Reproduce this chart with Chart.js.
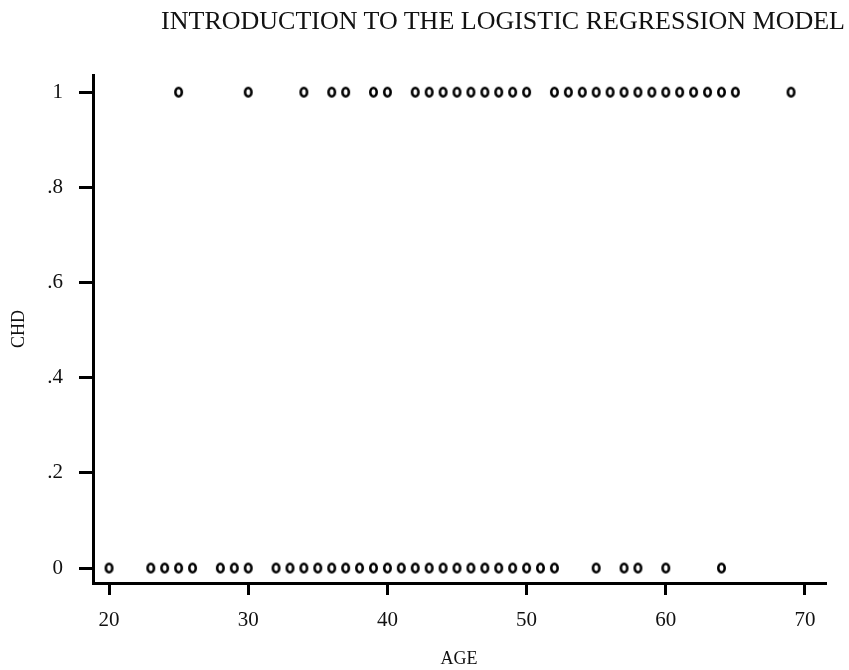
<!DOCTYPE html>
<html>
<head>
<meta charset="utf-8">
<script src="https://cdn.jsdelivr.net/npm/chart.js@4/dist/chart.umd.min.js"></script>
<style>
  html, body { margin: 0; padding: 0; background: #fff; }
  #wrap { position: relative; width: 849px; height: 670px; }
  #heading {
    position: absolute; top: 8px; right: 4px;
    font-family: "Liberation Serif", "Times New Roman", serif;
    font-size: 26px; line-height: 26px; color: #111; white-space: nowrap;
  }
  canvas { display: block; }
</style>
</head>
<body>
<div id="wrap">
  <div id="heading">INTRODUCTION TO THE LOGISTIC REGRESSION MODEL</div>
  <canvas id="chd" width="849" height="670"></canvas>
</div>
<script>
// ages of subjects with and without coronary heart disease
const ageWithChd = [25, 30, 34, 36, 37, 39, 40, 42, 43, 44, 45, 46, 47, 48, 49, 50,
  52, 53, 54, 55, 56, 57, 58, 59, 60, 61, 62, 63, 64, 65, 69];
const ageNoChd = [20, 23, 24, 25, 26, 28, 29, 30, 32, 33, 34, 35, 36, 37, 38, 39, 40,
  41, 42, 43, 44, 45, 46, 47, 48, 49, 50, 51, 52, 55, 57, 58, 60, 64];
const xTicks = [20, 30, 40, 50, 60, 70];
const yTicks = [0, 0.2, 0.4, 0.6, 0.8, 1];
const yTickLabels = ["0", ".2", ".4", ".6", ".8", "1"];

const serif = "'Liberation Serif', 'Times New Roman', serif";

// small hollow oval used as the plotting symbol
function ovalMarker() {
  const c = document.createElement("canvas");
  c.width = 11; c.height = 13;
  const g = c.getContext("2d");
  g.strokeStyle = "#000";
  g.lineWidth = 2.6;
  g.beginPath();
  g.ellipse(5.5, 6.5, 3.2, 4.3, 0, 0, Math.PI * 2);
  g.stroke();
  return c;
}
const marker = ovalMarker();

const points = ageWithChd.map((a) => ({ x: a, y: 1 }))
  .concat(ageNoChd.map((a) => ({ x: a, y: 0 })));

new Chart(document.getElementById("chd"), {
  type: "scatter",
  data: {
    datasets: [{
      data: points,
      pointStyle: marker,
      pointRadius: 5,
      pointHoverRadius: 5,
    }],
  },
  options: {
    responsive: false,
    animation: false,
    events: [],
    layout: { padding: { top: 75, right: 24, bottom: 0, left: 0 } },
    plugins: { legend: { display: false }, tooltip: { enabled: false } },
    scales: {
      x: {
        type: "linear",
        min: 18.85,
        max: 71.44,
        afterFit: (s) => { s.height = 87; },
        afterBuildTicks: (s) => { s.ticks = xTicks.map((v) => ({ value: v })); },
        border: { display: true, color: "#000", width: 3 },
        grid: { drawOnChartArea: false, drawTicks: true, tickLength: 12, color: "#000", lineWidth: 3 },
        ticks: { color: "#111", padding: 13, font: { family: serif, size: 21 } },
        title: {
          display: true, text: "AGE", color: "#111",
          font: { family: serif, size: 18 }, padding: { top: 0, bottom: 0 },
        },
      },
      y: {
        type: "linear",
        min: -0.0315,
        max: 1.036,
        afterFit: (s) => { s.width = 93; },
        afterBuildTicks: (s) => { s.ticks = yTicks.map((v) => ({ value: v })); },
        border: { display: true, color: "#000", width: 3 },
        grid: { drawOnChartArea: false, drawTicks: true, tickLength: 14, color: "#000", lineWidth: 3 },
        ticks: {
          color: "#111", padding: 16, font: { family: serif, size: 21 },
          callback: (v) => yTickLabels[yTicks.indexOf(v)],
        },
        title: {
          display: true, text: "CHD", color: "#111",
          font: { family: serif, size: 18 }, padding: { top: 8, bottom: 0 },
        },
      },
    },
  },
});
</script>
</body>
</html>
